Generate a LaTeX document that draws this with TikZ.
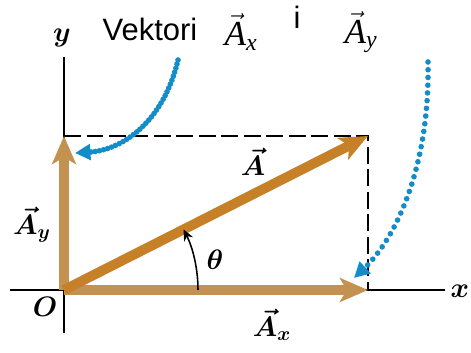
\RequirePackage{fix-cm}
\documentclass[tikz,border=0pt]{standalone}
\usepackage{fontspec}
\usepackage{bm}
\usetikzlibrary{arrows.meta}
\newfontfamily\titlefont{Liberation Sans}
\newfontfamily\serifit{Liberation Serif Italic}
\newcommand{\tvec}[2]{$\vec{\mbox{\serifit\fontsize{25}{28}\selectfont #1}}_{\mbox{\serifit\fontsize{17}{17}\selectfont #2}}$}
\definecolor{vecbrown}{RGB}{196,146,80}
\definecolor{vecorange}{RGB}{198,128,40}
\definecolor{hintblue}{RGB}{20,140,200}

\begin{document}
\begin{tikzpicture}[x=0.025cm, y=0.025cm, >=stealth,
    vec/.style={line width=7pt, vecbrown, -{Stealth[length=20pt,width=17pt,inset=5pt]}},
    lab/.style={font=\fontsize{20}{24}\selectfont, inner sep=1pt},
    ttl/.style={font=\titlefont\fontsize{22}{26}\selectfont},
    hint/.style={hintblue, line width=4pt, line cap=round, -{Triangle[length=11pt,width=11pt]}}]
  \useasboundingbox (-64,-63) rectangle (407,290);
  \coordinate (O) at (0,0);
  \coordinate (P) at (304,154);
  \coordinate (Px) at (304,0);
  \coordinate (Py) at (0,154);
  \draw[line width=1.4pt] (-54,0) -- (381,0);
  \draw[line width=1.4pt] (0,-43) -- (0,233);
  \draw[line width=1.4pt, dash pattern=on 12pt off 4pt] (Py) -- (P) -- (Px);
  \draw[vec] (O) -- (Py);
  \draw[vec] (O) -- (Px);
  \draw[vec, vecorange] (O) -- (P);
  \draw[line width=1.1pt, -{Stealth[length=8pt,width=7pt]}] (134,0) arc[start angle=0, end angle=26.9, radius=134];
  \coordinate (h1) at (114,230);
  \coordinate (h1e) at (11,137);
  \coordinate (h2) at (364,228);
  \coordinate (h2e) at (290,12);
  \draw[hint, dash pattern=on 0pt off 3pt] (h1) .. controls (100,170) and (60,140) .. (h1e);
  \draw[hint, dash pattern=on 0pt off 5.5pt] (h2) .. controls (366,120) and (330,50) .. (h2e);
  \node[lab] (lx) at (396,-1) {$\bm{x}$};
  \node[lab] (ly) at (-2,252) {$\bm{y}$};
  \node[lab] (lO) at (-19,-17) {$\bm{O}$};
  \node[lab] (lA) at (189,128) {$\bm{\vec{A}}$};
  \node[lab] (lAy) at (-32,65) {$\bm{\vec{A}}_{\bm{y}}$};
  \node[lab] (lAx) at (208,-35) {$\bm{\vec{A}}_{\bm{x}}$};
  \node[lab] (lth) at (151,30) {$\bm{\theta}$};
  \node[ttl] (t1) at (86,261) {Vektori};
  \node[ttl] (t2) at (177,258) {\tvec{A}{x}};
  \node[ttl] (t3) at (233,273) {i};
  \node[ttl] (t4) at (297,258) {\tvec{A}{y}};
\end{tikzpicture}
\end{document}
